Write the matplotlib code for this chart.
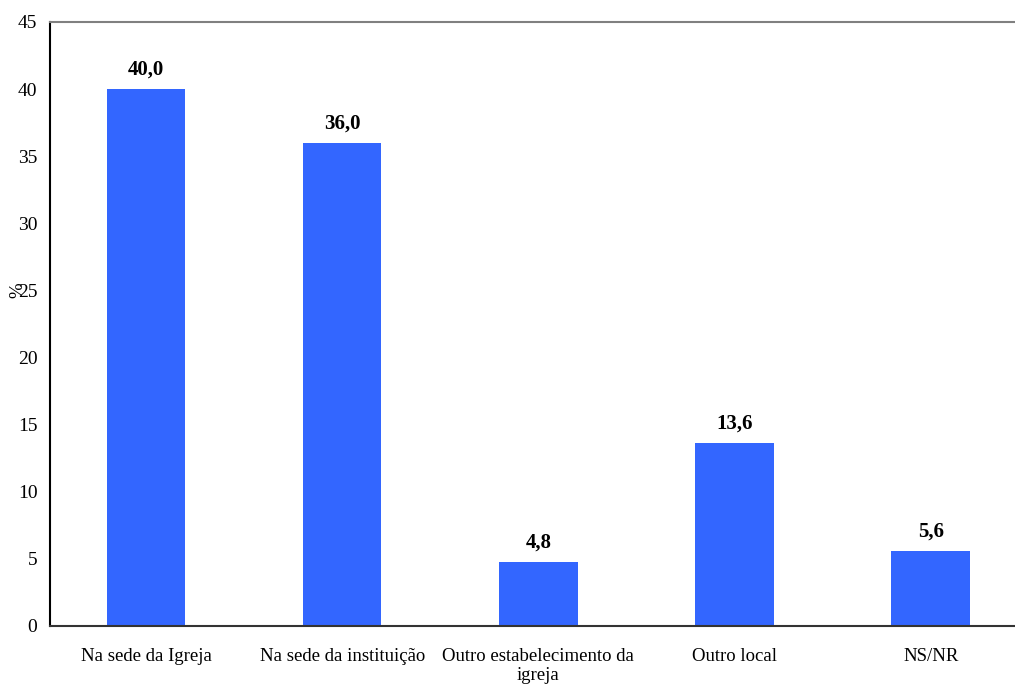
import matplotlib
matplotlib.use('Agg')
import matplotlib.pyplot as plt

categorias = ['Na sede da Igreja', 'Na sede da instituição',
              'Outro estabelecimento da\nigreja', 'Outro local', 'NS/NR']
valores = [40.0, 36.0, 4.8, 13.6, 5.6]
yticks = [0, 5, 10, 15, 20, 25, 30, 35, 40, 45]

plt.rcParams['font.family'] = ['Liberation Serif', 'DejaVu Serif']

fig = plt.figure(figsize=(10.15, 6.84), dpi=100)
ax = fig.add_axes([50 / 1015, 1 - 626 / 684, 1 - 50 / 1015, (626 - 22) / 684])

x = list(range(len(valores)))
ax.bar(x, valores, width=0.4, color='#3366FF', zorder=2)
for xi, v in zip(x, valores):
    ax.text(xi, v + 0.7, f'{v:.1f}'.replace('.', ','), ha='center', va='bottom',
            fontsize=15, fontweight='bold')

ax.set_xlim(-0.49, 4.43)
ax.set_ylim(0, 45)
ax.set_yticks(yticks)
ax.set_xticks(x)
ax.set_xticklabels(categorias, fontsize=13.5, linespacing=1.1)
ax.tick_params(axis='both', length=0)
ax.tick_params(axis='y', pad=9, labelsize=14)
ax.tick_params(axis='x', pad=16, labelsize=13.5)

# rótulo do eixo y, sobreposto ao 25
fig.text(18 / 1015, 1 - 290 / 684, '%', rotation=90, ha='center', va='center',
         fontsize=13.5)

ax.spines['right'].set_visible(False)
ax.spines['top'].set_color('#808080')
ax.spines['top'].set_linewidth(1.5)
ax.spines['left'].set_linewidth(1.5)
ax.spines['bottom'].set_linewidth(1.5)
ax.spines['bottom'].set_color('#333333')

fig.savefig('out.png', dpi=100)
